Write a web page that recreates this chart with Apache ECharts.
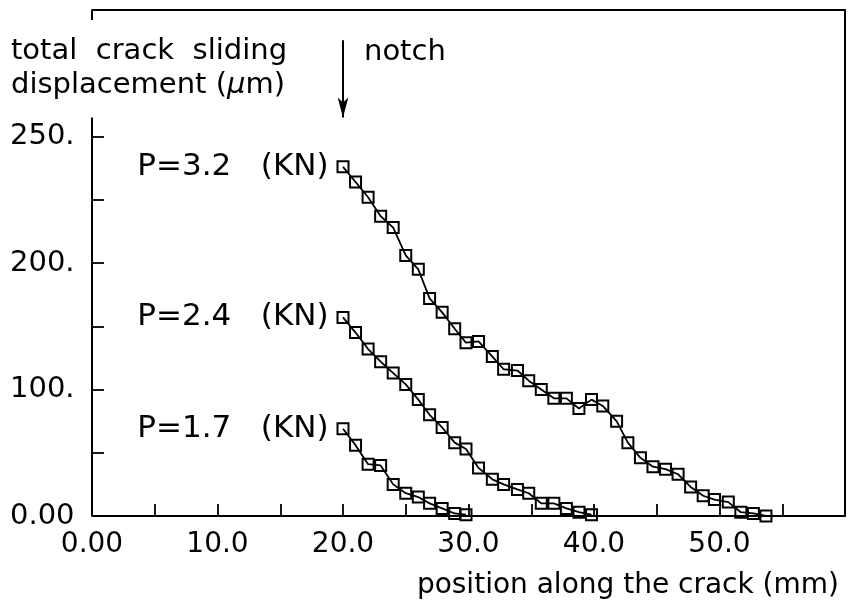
<!DOCTYPE html>
<html>
<head>
<meta charset="utf-8">
<script src="https://cdn.jsdelivr.net/npm/echarts@6/dist/echarts.min.js"></script>
<style>
  html, body { margin: 0; padding: 0; background: #fff; }
  #chart { width: 854px; height: 605px; }
</style>
</head>
<body>
<div id="chart"></div>
<script>
// positions along the crack (mm), shared by the three load cases
const positions = [20.0, 21.0, 22.0, 23.0, 24.0, 25.0, 26.0, 26.9, 27.9, 28.9,
    29.8, 30.8, 31.9, 32.8, 33.9, 34.8, 35.8, 36.8, 37.8, 38.8,
    39.8, 40.7, 41.8, 42.7, 43.7, 44.7, 45.7, 46.7, 47.7, 48.7,
    49.6, 50.7, 51.7, 52.7, 53.7];

// total crack sliding displacement (plot units)
const slideP32 = [276, 264, 252, 237, 228, 206, 195, 172, 161, 148,
    137, 138, 126, 116, 115, 107, 100, 93, 93, 85,
    92, 87, 75, 58, 46, 39, 37, 33, 23, 16,
    13, 11, 3, 2, 0];
const slideP24 = [157, 145, 132, 122, 113, 104, 92, 80, 70, 58,
    53, 38, 29, 25, 21, 18, 10, 10, 6, 3, 1];
const slideP17 = [69, 56, 41, 40, 25, 18, 15, 10, 6, 2, 1];

const seriesNames = ['P=3.2   (KN)', 'P=2.4   (KN)', 'P=1.7   (KN)'];

// tick labels
const xLabelValues = [0, 10, 20, 30, 40, 50];
const xLabelTexts = ['0.00', '10.0', '20.0', '30.0', '40.0', '50.0'];
const xTickValues = [5, 10, 15, 20, 25, 30, 35, 40, 45, 50, 55];
const yLabelValues = [0, 100, 200, 300];
const yLabelTexts = ['0.00', '100.', '200.', '250.'];
const yTickValues = [0, 50, 100, 150, 200, 250, 300];

const FONT = 'DejaVu Sans';

function buildData(values) {
    return values.map((v, i) => {
        const item = { value: [positions[i], v] };
        if (i === 0) {
            item.label = {
                show: true,
                position: 'left',
                distance: 8,
                formatter: '{a}',
                color: '#000',
                fontFamily: FONT,
                fontSize: 31
            };
        }
        return item;
    });
}

function makeSeries(name, values) {
    return {
        name: name,
        type: 'line',
        data: buildData(values),
        symbol: 'rect',
        symbolSize: 11,
        lineStyle: { color: '#000', width: 1.8 },
        itemStyle: { color: 'rgba(0,0,0,0)', borderColor: '#000', borderWidth: 2 },
        label: { show: false },
        emphasis: { disabled: true },
        silent: true
    };
}

const chart = echarts.init(document.getElementById('chart'));

const seriesList = [
    makeSeries(seriesNames[0], slideP32),
    makeSeries(seriesNames[1], slideP24),
    makeSeries(seriesNames[2], slideP17)
];

// left axis line (partial), top-left stub and the notch arrow
seriesList[0].markLine = {
    silent: true,
    animation: false,
    symbol: ['none', 'none'],
    label: { show: false },
    lineStyle: { color: '#000', width: 2, type: 'solid' },
    emphasis: { disabled: true },
    data: [
        [{ coord: [0, 0] }, { coord: [0, 315] }],
        [{ coord: [0, 392] }, { coord: [0, 400] }],
        [{ coord: [20, 376] }, { coord: [20, 315], symbol: 'arrow', symbolSize: [8, 20] }]
    ]
};

chart.setOption({
    animation: false,
    backgroundColor: '#fff',
    grid: { left: 92, right: 9, top: 10, bottom: 89, containLabel: false },
    xAxis: [
        {
            type: 'value',
            min: 0,
            max: 60,
            position: 'bottom',
            axisLine: { show: true, onZero: false, lineStyle: { color: '#000', width: 2 } },
            axisTick: {
                show: true, inside: true, length: 12,
                customValues: xTickValues,
                lineStyle: { color: '#000', width: 1.8 }
            },
            axisLabel: {
                show: true,
                customValues: xLabelValues,
                margin: 15,
                color: '#000',
                fontFamily: FONT,
                fontSize: 28,
                formatter: (v) => xLabelTexts[xLabelValues.indexOf(v)]
            },
            splitLine: { show: false }
        },
        {
            type: 'value',
            min: 0,
            max: 60,
            position: 'top',
            axisLine: { show: true, onZero: false, lineStyle: { color: '#000', width: 2 } },
            axisTick: { show: false },
            axisLabel: { show: false },
            splitLine: { show: false }
        }
    ],
    yAxis: [
        {
            type: 'value',
            min: 0,
            max: 400,
            position: 'left',
            axisLine: { show: false },
            axisTick: {
                show: true, inside: true, length: 12,
                customValues: yTickValues,
                lineStyle: { color: '#000', width: 1.8 }
            },
            axisLabel: {
                show: true,
                customValues: yLabelValues,
                align: 'left',
                margin: 82,
                color: '#000',
                fontFamily: FONT,
                fontSize: 29,
                formatter: (v) => yLabelTexts[yLabelValues.indexOf(v)]
            },
            splitLine: { show: false }
        },
        {
            type: 'value',
            min: 0,
            max: 400,
            position: 'right',
            axisLine: { show: true, onZero: false, lineStyle: { color: '#000', width: 2 } },
            axisTick: { show: false },
            axisLabel: { show: false },
            splitLine: { show: false }
        }
    ],
    graphic: [
        {
            type: 'text', x: 11, y: 51, silent: true,
            style: {
                text: 'total  crack  sliding', fill: '#000',
                fontFamily: FONT, fontSize: 29,
                textAlign: 'left', textVerticalAlign: 'middle'
            }
        },
        {
            type: 'text', x: 11, y: 85, silent: true,
            style: {
                text: 'displacement ({i|μ}m)', fill: '#000',
                fontFamily: FONT, fontSize: 29,
                textAlign: 'left', textVerticalAlign: 'middle',
                rich: { i: { fontFamily: FONT, fontSize: 29, fontStyle: 'italic', fill: '#000' } }
            }
        },
        {
            type: 'text', x: 364, y: 52, silent: true,
            style: {
                text: 'notch', fill: '#000',
                fontFamily: FONT, fontSize: 29,
                textAlign: 'left', textVerticalAlign: 'middle'
            }
        },
        {
            type: 'text', x: 839, y: 586, silent: true,
            style: {
                text: 'position along the crack (mm)', fill: '#000',
                fontFamily: FONT, fontSize: 28,
                textAlign: 'right', textVerticalAlign: 'middle'
            }
        }
    ],
    series: seriesList
});
</script>
</body>
</html>
